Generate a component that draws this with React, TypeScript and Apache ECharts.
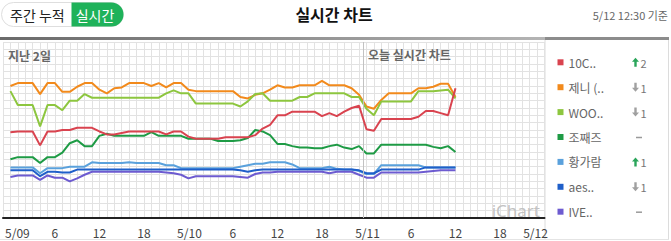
import { useEffect, useRef } from "react";
import * as echarts from "echarts";

const FONT = "'Noto Sans CJK KR', 'Noto Sans', sans-serif";

const seriesNames = ["10C..", "제니 (..", "WOO..", "조째즈", "황가람", "aes..", "IVE.."];
const seriesColors = ["#d9434f", "#f28a1c", "#8dc63f", "#1e9b45", "#5aa1dc", "#1f5fc9", "#6d5bd0"];
const changeDir = ["up", "down", "down", "same", "up", "down", "same"];
const changeAmt = [2, 1, 1, 0, 1, 1, 0];

const xTickLabels = ["5/09", "6", "12", "18", "5/10", "6", "12", "18", "5/11", "6", "12", "18", "5/12"];

// hourly scores, 5/09 00h .. 5/11 12h
const red10c = [11.7, 11.8, 11.8, 11.8, 9.9, 11.8, 11.8, 12.0, 12.0, 12.3,
  12.3, 12.3, 11.8, 11.4, 11.4, 11.6, 11.8, 11.8, 11.8, 11.8,
  11.8, 11.4, 11.8, 11.8, 11.1, 10.8, 10.8, 10.8, 10.8, 11.0,
  11.0, 11.0, 11.0, 11.3, 12.2, 12.7, 14.0, 14.0, 14.5, 14.5,
  14.5, 14.5, 13.9, 14.3, 13.9, 14.5, 15.0, 15.3, 12.1, 11.9,
  13.5, 13.5, 13.5, 13.5, 13.5, 13.8, 14.6, 14.6, 14.3, 14.0, 17.7];
const jennie = [18.0, 18.4, 18.4, 18.4, 16.9, 18.4, 18.4, 17.2, 17.2, 17.9,
  18.4, 18.4, 17.5, 17.0, 17.7, 17.8, 18.4, 18.4, 18.4, 18.0,
  18.4, 17.8, 18.4, 18.4, 17.5, 17.3, 17.3, 17.3, 17.3, 17.3,
  17.3, 16.5, 16.3, 16.8, 17.0, 17.5, 18.1, 17.8, 17.8, 18.1,
  18.1, 18.1, 18.7, 18.1, 18.1, 18.1, 17.7, 16.8, 15.2, 14.9,
  16.1, 17.0, 17.0, 17.0, 17.0, 17.7, 17.7, 17.9, 18.3, 18.3, 16.5];
const woo = [17.3, 15.4, 15.4, 15.4, 12.5, 15.4, 15.4, 14.7, 16.0, 16.0,
  16.9, 16.4, 16.4, 16.4, 16.4, 16.4, 16.4, 16.4, 16.4, 16.4,
  16.4, 17.0, 17.4, 17.0, 17.0, 15.6, 15.6, 15.6, 15.6, 15.6,
  15.6, 15.2, 15.9, 16.9, 17.0, 16.0, 16.0, 16.0, 16.0, 16.5,
  16.5, 17.0, 17.0, 17.0, 17.0, 17.0, 16.5, 16.5, 14.9, 14.0,
  15.9, 15.9, 15.9, 15.9, 15.9, 17.3, 17.3, 17.3, 17.4, 17.5, 16.3];
const jojazz = [8.0, 8.3, 8.3, 8.3, 7.5, 8.3, 8.3, 8.9, 10.2, 10.6,
  9.8, 9.8, 11.2, 11.5, 11.2, 11.2, 11.2, 11.2, 11.2, 11.7,
  11.2, 11.2, 11.2, 11.2, 10.8, 10.8, 10.8, 10.8, 10.5, 10.5,
  10.5, 10.6, 10.9, 12.0, 11.8, 11.3, 10.1, 10.1, 9.8, 9.6,
  9.6, 9.5, 9.5, 9.8, 10.0, 9.6, 9.4, 9.8, 8.8, 8.8,
  10.0, 10.0, 10.0, 10.0, 10.0, 10.0, 10.0, 9.7, 9.5, 9.8, 9.0];
const hwang = [6.9, 6.9, 6.9, 6.9, 6.1, 6.8, 6.8, 6.8, 7.0, 7.0,
  7.0, 7.6, 7.5, 7.5, 7.5, 7.5, 7.6, 7.5, 7.5, 7.5,
  7.5, 7.2, 7.2, 6.8, 6.8, 6.8, 6.8, 6.8, 6.8, 6.8,
  6.8, 7.0, 7.2, 7.4, 7.4, 7.6, 7.6, 7.6, 7.3, 6.8,
  6.8, 6.8, 6.8, 7.0, 6.7, 6.6, 6.6, 6.4, 6.0, 6.0,
  7.2, 7.2, 7.2, 7.2, 7.2, 7.2, 6.9, 6.9, 6.9, 6.9, 6.9];
const aes = [6.5, 6.5, 6.5, 6.5, 5.7, 6.3, 6.3, 6.2, 6.2, 6.6,
  6.6, 6.6, 6.6, 6.6, 6.6, 6.6, 6.6, 6.6, 6.6, 6.6,
  6.6, 6.6, 6.6, 6.6, 6.6, 6.6, 6.6, 6.6, 6.6, 6.6,
  6.6, 6.5, 6.3, 6.5, 6.6, 6.6, 6.6, 6.6, 6.6, 6.6,
  6.6, 6.6, 6.6, 6.6, 6.6, 6.6, 6.6, 6.5, 6.1, 6.1,
  6.6, 6.6, 6.6, 6.6, 6.6, 6.6, 6.9, 6.9, 6.9, 6.9, 6.9];
const ive = [5.6, 5.8, 5.8, 5.8, 5.2, 5.8, 5.5, 5.5, 5.0, 5.4,
  5.9, 6.3, 6.3, 6.3, 6.3, 6.3, 6.3, 6.3, 6.3, 6.3,
  6.3, 6.2, 6.1, 5.9, 5.4, 5.7, 5.7, 5.7, 5.7, 5.7,
  5.7, 5.6, 5.5, 6.0, 6.2, 6.2, 6.3, 6.3, 6.3, 6.3,
  6.3, 6.3, 6.3, 6.1, 6.3, 6.3, 6.3, 5.9, 5.5, 5.5,
  6.2, 6.2, 6.2, 6.2, 6.2, 6.2, 6.3, 6.4, 6.5, 6.5, 6.5];

const seriesValues = [red10c, jennie, woo, jojazz, hwang, aes, ive];

export default function App() {
  const ref = useRef<HTMLDivElement>(null);

  useEffect(() => {
    document.body.style.margin = "0";
    const chart = echarts.init(ref.current!, null, { renderer: "svg" });

    const rowY = (i: number) => 62.3 + 24.9 * i;
    const changeGraphics: any[] = [];
    changeDir.forEach((d, i) => {
      const cy = rowY(i);
      if (d === "same") {
        changeGraphics.push({
          type: "line",
          shape: { x1: 636, y1: cy + 0.5, x2: 642, y2: cy + 0.5 },
          style: { stroke: "#9a9a9a", lineWidth: 1.5 },
        });
      } else {
        const cx = 635.5;
        const up = d === "up";
        const s = up ? 1 : -1;
        changeGraphics.push({
          type: "polygon",
          shape: {
            points: [
              [cx - 3.5, cy - 0.5 * s],
              [cx, cy - 4.5 * s],
              [cx + 3.5, cy - 0.5 * s],
              [cx + 1.2, cy - 0.5 * s],
              [cx + 1.2, cy + 4.5 * s],
              [cx - 1.2, cy + 4.5 * s],
              [cx - 1.2, cy - 0.5 * s],
            ],
          },
          style: { fill: up ? "#2aa55a" : "#a0a0a0" },
        });
        changeGraphics.push({
          type: "text",
          x: 640.5,
          y: cy + 0.5,
          style: {
            text: String(changeAmt[i]),
            fontSize: 11,
            fontFamily: FONT,
            fill: "#777",
            verticalAlign: "middle",
          },
        });
      }
    });

    chart.setOption({
      animation: false,
      grid: { left: -3, right: 126.5, top: 42, bottom: 23, containLabel: false },
      xAxis: {
        type: "value",
        min: -1,
        max: 72,
        interval: 1,
        axisLine: { show: true, onZero: false, lineStyle: { color: "#222", width: 2 } },
        axisTick: { show: false },
        splitLine: { show: true, lineStyle: { color: "#e2e2e2", width: 1 } },
        axisLabel: {
          margin: 8,
          fontSize: 12,
          color: "#444",
          fontFamily: FONT,
          formatter: (v: number) => {
            if (v < 0 || v % 6 !== 0) return "";
            const t = xTickLabels[v / 6];
            if (v === 0) return `{first|${t}}`;
            if (v === 72) return `{last|${t}}`;
            if (v % 24 === 0) return `{date|${t}}`;
            return t;
          },
          rich: {
            first: { padding: [0, 0, 0, 14], fontSize: 12, color: "#444", fontFamily: FONT },
            last: { padding: [0, 18, 0, 0], fontSize: 12, color: "#444", fontFamily: FONT },
            date: { padding: [0, 0, 0, 2], fontSize: 12, color: "#444", fontFamily: FONT },
          },
        },
      },
      yAxis: {
        type: "value",
        min: 0,
        max: 24,
        interval: 1,
        axisLine: { show: false },
        axisTick: { show: false },
        axisLabel: { show: false },
        splitLine: { show: true, lineStyle: { color: "#e2e2e2", width: 1 } },
      },
      legend: {
        orient: "vertical",
        left: 552.5,
        top: 50.3,
        itemWidth: 6,
        itemHeight: 6,
        itemGap: 10.9,
        icon: "rect",
        selectedMode: false,
        data: seriesNames,
        textStyle: { fontSize: 12, lineHeight: 14, color: "#666", fontFamily: FONT },
      },
      series: seriesNames.map((name, i) => ({
        name,
        type: "line",
        data: seriesValues[i].map((v, h) => [h, v]),
        color: seriesColors[i],
        showSymbol: false,
        symbol: "none",
        lineStyle: { width: 2, color: seriesColors[i] },
        z: i === 0 ? 10 : 3,
        markLine:
          i === 0
            ? {
                silent: true,
                symbol: "none",
                label: { show: false },
                lineStyle: { color: "#c2c2c2", type: "solid", width: 1 },
                data: [{ xAxis: 47.5 }],
              }
            : undefined,
      })),
      graphic: [
        {
          type: "rect",
          shape: { x: 0, y: 37, width: 545, height: 3 },
          style: {
            fill: new echarts.graphic.LinearGradient(0, 0, 1, 0, [
              { offset: 0, color: "#6a6a6a" },
              { offset: 1, color: "#b4b4b4" },
            ]),
          },
        },
        { type: "rect", shape: { x: 545, y: 37, width: 124, height: 3 }, style: { fill: "#8c8c8c" } },
        { type: "line", shape: { x1: 545, y1: 40, x2: 545, y2: 240 }, style: { stroke: "#dcdcdc", lineWidth: 1 } },
        { type: "line", shape: { x1: 668.5, y1: 40, x2: 668.5, y2: 240 }, style: { stroke: "#dcdcdc", lineWidth: 1 } },
        { type: "line", shape: { x1: 0, y1: 239.5, x2: 669, y2: 239.5 }, style: { stroke: "#e4e4e4", lineWidth: 1 } },
        // toggle
        {
          type: "rect",
          shape: { x: 1.5, y: 2.5, width: 122, height: 24, r: 12 },
          style: { fill: "#fff", stroke: "#dedede", lineWidth: 1 },
        },
        {
          type: "rect",
          shape: { x: 71.5, y: 2.5, width: 52, height: 24, r: [0, 12, 12, 0] },
          style: { fill: "#1fb25a" },
        },
        {
          type: "text",
          x: 10,
          y: 15,
          style: { text: "주간 누적", fontSize: 14, fontFamily: FONT, fill: "#222", verticalAlign: "middle" },
        },
        {
          type: "text",
          x: 95,
          y: 15,
          style: { text: "실시간", fontSize: 14, fontFamily: FONT, fill: "#fff", align: "center", verticalAlign: "middle" },
        },
        {
          type: "text",
          x: 334,
          y: 14,
          style: {
            text: "실시간 차트",
            fontSize: 16,
            fontWeight: "bold",
            fontFamily: FONT,
            fill: "#111",
            align: "center",
            verticalAlign: "middle",
          },
        },
        {
          type: "text",
          x: 668,
          y: 15,
          style: { text: "5/12 12:30 기준", fontSize: 11, fontFamily: FONT, fill: "#666", align: "right", verticalAlign: "middle" },
        },
        {
          type: "text",
          x: 8,
          y: 55,
          z: 20,
          style: { text: "지난 2일", fontSize: 12, fontWeight: "bold", fontFamily: FONT, fill: "#666", verticalAlign: "middle" },
        },
        {
          type: "text",
          x: 368,
          y: 54,
          z: 20,
          style: { text: "오늘 실시간 차트", fontSize: 12, fontWeight: "bold", fontFamily: FONT, fill: "#666", verticalAlign: "middle" },
        },
        {
          type: "text",
          x: 540,
          y: 210,
          z: 20,
          style: { text: "iChart", fontSize: 17, fontFamily: "'Noto Sans', sans-serif", fill: "#c2c2c2", align: "right", verticalAlign: "middle" },
        },
        ...changeGraphics,
      ],
    });

    return () => chart.dispose();
  }, []);

  return <div ref={ref} style={{ width: 671, height: 241 }} />;
}
